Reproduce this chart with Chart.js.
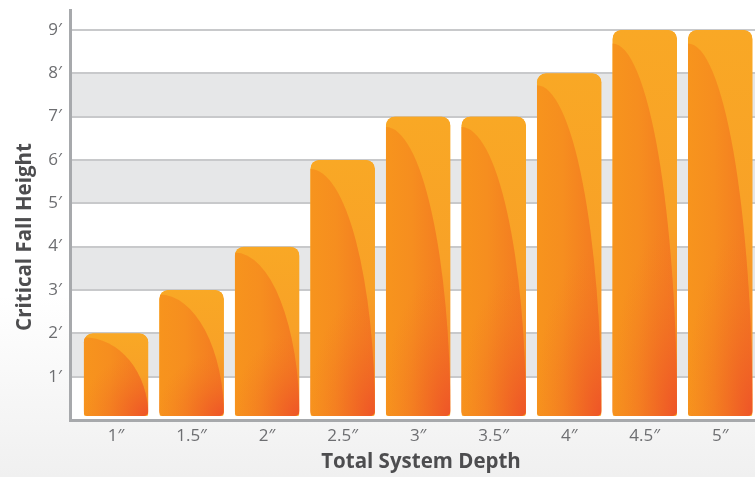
<!DOCTYPE html>
<html lang="en">
<head>
  <meta charset="UTF-8" />
  <title>Critical Fall Height</title>
  <script src="https://cdn.jsdelivr.net/npm/chart.js"></script>
  <style>
    html, body {
      margin: 0;
      padding: 0;
    }

    body {
      width: 755px;
      height: 477px;
      overflow: hidden;
      background: linear-gradient(to bottom, #ffffff 0%, #ffffff 62%, #f0f0f0 100%);
    }

    .chart-box {
      position: relative;
      width: 755px;
      height: 477px;
    }
  </style>
</head>
<body>
  <div class="chart-box">
    <canvas id="fallChart"></canvas>
  </div>

  <script>
    // dados do gráfico
    const depths = ['1″', '1.5″', '2″', '2.5″', '3″', '3.5″', '4″', '4.5″', '5″'];
    const fallHeights = [2, 3, 4, 6, 7, 7, 8, 9, 9];
    const heightTicks = ['', '1′', '2′', '3′', '4′', '5′', '6′', '7′', '8′', '9′'];
    const shadedBands = [[1, 2], [3, 4], [5, 6], [7, 8]];
    const xTitle = 'Total System Depth';
    const yTitle = 'Critical Fall Height';

    const textGray = '#6d6e71';
    const titleGray = '#4d4d4f';
    const titleFont = 'bold 20.5px "Open Sans"';

    // faixas cinza alternadas atrás da grade
    const bandPlugin = {
      id: 'bands',
      beforeDraw(chart) {
        const { ctx, chartArea, scales } = chart;
        ctx.save();
        ctx.fillStyle = '#ffffff';
        ctx.fillRect(chartArea.left, chartArea.top, chartArea.right - chartArea.left, chartArea.bottom - chartArea.top);
        ctx.fillStyle = '#e6e7e8';
        shadedBands.forEach(([lo, hi]) => {
          const y1 = scales.y.getPixelForValue(hi);
          const y2 = scales.y.getPixelForValue(lo);
          ctx.fillRect(chartArea.left, y1, chartArea.right - chartArea.left, y2 - y1);
        });
        ctx.restore();
      }
    };

    // brilho curvo dentro de cada barra
    const shinePlugin = {
      id: 'shine',
      afterDatasetsDraw(chart) {
        const ctx = chart.ctx;
        chart.getDatasetMeta(0).data.forEach(bar => {
          const p = bar.getProps(['x', 'y', 'base', 'width'], true);
          const x0 = p.x - p.width / 2;
          const w = p.width;
          const x1 = x0 + w;
          const top = p.y;
          const bottom = p.base - 3;
          const h = bottom - top;

          ctx.save();
          ctx.beginPath();
          ctx.roundRect(x0, top, w, h, [9, 9, 5, 5]);
          ctx.clip();

          // parte clara (fora da curva)
          const outer = ctx.createLinearGradient(0, top, 0, bottom);
          outer.addColorStop(0, '#f9a825');
          outer.addColorStop(0.5, '#f8a127');
          outer.addColorStop(0.82, '#f58a27');
          outer.addColorStop(1, '#f16528');
          ctx.fillStyle = outer;
          ctx.fillRect(x0, top, w, h);

          // parte interna
          const dip = Math.max(4, h * 0.035);
          ctx.beginPath();
          ctx.ellipse(x0, bottom, w, h - dip, 0, -Math.PI / 2, 0);
          ctx.lineTo(x0, bottom);
          ctx.closePath();
          const inner = ctx.createLinearGradient(x0, 0, x1, 0);
          inner.addColorStop(0, '#f7941d');
          inner.addColorStop(0.4, '#f68e1f');
          inner.addColorStop(1, '#f37822');
          ctx.fillStyle = inner;
          ctx.fill();
          ctx.clip();

          // avermelhado no canto inferior direito
          const rx = w * 1.05;
          const ry = Math.max(w, h * 0.5);
          ctx.translate(x1, bottom);
          ctx.scale(1, ry / rx);
          const red = ctx.createRadialGradient(0, 0, 0, 0, 0, rx);
          red.addColorStop(0, 'rgba(238, 82, 40, 0.95)');
          red.addColorStop(0.5, 'rgba(240, 100, 36, 0.45)');
          red.addColorStop(1, 'rgba(242, 120, 34, 0)');
          ctx.fillStyle = red;
          ctx.fillRect(-rx, -rx, rx, rx);

          ctx.restore();
        });
      }
    };

    // títulos dos eixos
    const axisTitlePlugin = {
      id: 'axisTitles',
      afterDraw(chart) {
        const ctx = chart.ctx;
        ctx.save();
        ctx.font = titleFont;
        ctx.fillStyle = titleGray;
        ctx.textAlign = 'center';
        ctx.textBaseline = 'middle';
        ctx.fillText(xTitle, 421, 462);
        ctx.translate(25, 237);
        ctx.rotate(-Math.PI / 2);
        ctx.fillText(yTitle, 0, 0);
        ctx.restore();
      }
    };

    const ctx = document.getElementById('fallChart').getContext('2d');
    new Chart(ctx, {
      type: 'bar',
      data: {
        datasets: [{
          data: fallHeights.map((h, i) => ({ x: i + 1, y: h })),
          backgroundColor: '#f8a424',
          borderColor: 'rgba(0, 0, 0, 0)',
          borderWidth: { top: 0, left: 0, right: 0, bottom: 3 },
          borderSkipped: false,
          borderRadius: { topLeft: 9, topRight: 9, bottomLeft: 5, bottomRight: 5 },
          barPercentage: 0.855,
          categoryPercentage: 1
        }]
      },
      options: {
        responsive: true,
        maintainAspectRatio: false,
        animation: false,
        layout: { padding: { top: 10, left: 0, right: 0, bottom: 0 } },
        plugins: {
          legend: { display: false },
          tooltip: { enabled: false }
        },
        scales: {
          x: {
            type: 'linear',
            offset: false,
            min: 0.39,
            max: 9.46,
            afterFit(s) {
              s.height = 57;
              s.paddingLeft = 0;
              s.paddingRight = 0;
            },
            grid: { display: false, drawTicks: false },
            border: { color: '#a7a9ac', width: 3 },
            ticks: {
              stepSize: 1,
              includeBounds: false,
              autoSkip: false,
              maxRotation: 0,
              padding: 6,
              color: textGray,
              font: { family: 'Open Sans', size: 17 },
              callback: v => depths[v - 1] ?? ''
            }
          },
          y: {
            min: 0,
            max: 9.46,
            afterFit(s) {
              s.width = 70;
              s.paddingTop = 0;
              s.paddingBottom = 0;
            },
            grid: {
              color: c => c.tick && c.tick.value === 0 ? 'rgba(0, 0, 0, 0)' : '#c8c9cb',
              lineWidth: 2,
              drawTicks: false
            },
            border: { color: '#a7a9ac', width: 3 },
            ticks: {
              stepSize: 1,
              includeBounds: false,
              padding: 8,
              color: textGray,
              font: { family: 'Open Sans', size: 17 },
              callback: v => heightTicks[v] ?? ''
            }
          }
        }
      },
      plugins: [bandPlugin, shinePlugin, axisTitlePlugin]
    });
  </script>
</body>
</html>
